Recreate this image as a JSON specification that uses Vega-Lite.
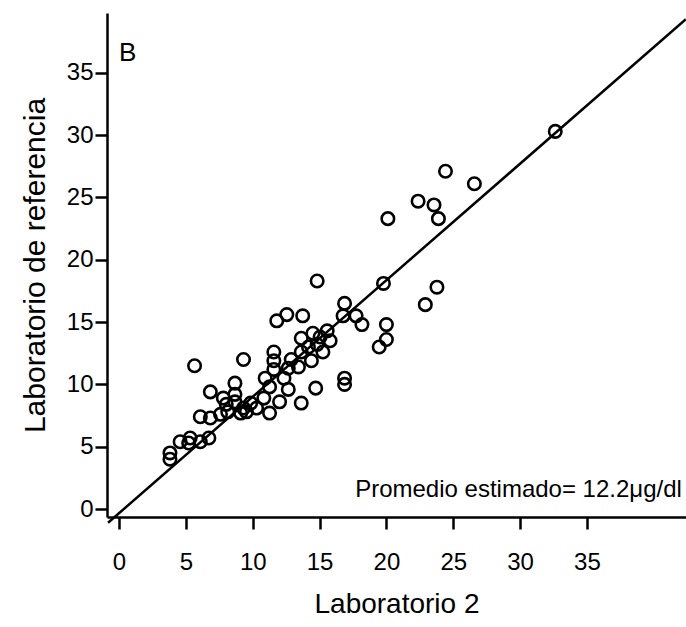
{
  "$schema": "https://vega.github.io/schema/vega-lite/v6.json",
  "width": 579,
  "height": 504,
  "autosize": "none",
  "padding": {"left": 107, "top": 13, "right": 0, "bottom": 110},
  "background": "white",
  "config": {
    "view": {"stroke": null},
    "axis": {
      "domainColor": "black", "domainWidth": 2.5,
      "tickColor": "black", "tickWidth": 2.5, "tickSize": 12,
      "labelColor": "black", "titleColor": "black",
      "grid": false,
      "labelFont": "Liberation Sans", "labelFontSize": 24,
      "titleFont": "Liberation Sans", "titleFontSize": 28, "titleFontWeight": "normal"
    }
  },
  "datasets": {
    "pts": [
      {"lab2": 3.81, "ref": 4.5}, {"lab2": 3.81, "ref": 4.0}, {"lab2": 4.57, "ref": 5.4}, {"lab2": 5.21, "ref": 5.3},
      {"lab2": 5.32, "ref": 5.7}, {"lab2": 6.08, "ref": 5.4}, {"lab2": 6.72, "ref": 5.7}, {"lab2": 6.08, "ref": 7.4},
      {"lab2": 6.83, "ref": 7.3}, {"lab2": 7.59, "ref": 7.6}, {"lab2": 8.13, "ref": 7.8}, {"lab2": 9.10, "ref": 7.7},
      {"lab2": 9.53, "ref": 7.8}, {"lab2": 7.80, "ref": 8.9}, {"lab2": 8.67, "ref": 9.2}, {"lab2": 8.67, "ref": 10.1},
      {"lab2": 6.83, "ref": 9.4}, {"lab2": 5.65, "ref": 11.5}, {"lab2": 9.31, "ref": 12.0}, {"lab2": 8.67, "ref": 8.6},
      {"lab2": 9.31, "ref": 8.1}, {"lab2": 10.29, "ref": 8.1}, {"lab2": 10.83, "ref": 8.9}, {"lab2": 11.26, "ref": 7.7},
      {"lab2": 12.01, "ref": 8.6}, {"lab2": 13.63, "ref": 8.5}, {"lab2": 11.26, "ref": 9.8}, {"lab2": 12.66, "ref": 9.6},
      {"lab2": 14.71, "ref": 9.7}, {"lab2": 11.58, "ref": 11.2}, {"lab2": 12.66, "ref": 11.3}, {"lab2": 13.42, "ref": 11.4},
      {"lab2": 14.39, "ref": 11.9}, {"lab2": 11.58, "ref": 11.9}, {"lab2": 11.58, "ref": 12.6}, {"lab2": 13.63, "ref": 12.6},
      {"lab2": 15.25, "ref": 12.6}, {"lab2": 14.82, "ref": 13.2}, {"lab2": 15.79, "ref": 13.5}, {"lab2": 13.63, "ref": 13.7},
      {"lab2": 14.50, "ref": 14.1}, {"lab2": 15.57, "ref": 14.3}, {"lab2": 11.80, "ref": 15.1}, {"lab2": 12.55, "ref": 15.6},
      {"lab2": 13.74, "ref": 15.5}, {"lab2": 16.76, "ref": 15.5}, {"lab2": 14.82, "ref": 18.3}, {"lab2": 16.87, "ref": 16.5},
      {"lab2": 17.73, "ref": 15.5}, {"lab2": 18.17, "ref": 14.8}, {"lab2": 20.00, "ref": 14.8}, {"lab2": 20.00, "ref": 13.6},
      {"lab2": 19.46, "ref": 13.0}, {"lab2": 19.78, "ref": 18.1}, {"lab2": 16.87, "ref": 10.5}, {"lab2": 16.87, "ref": 10.0},
      {"lab2": 22.91, "ref": 16.4}, {"lab2": 23.78, "ref": 17.8}, {"lab2": 20.11, "ref": 23.3}, {"lab2": 22.37, "ref": 24.7},
      {"lab2": 23.56, "ref": 24.4}, {"lab2": 23.89, "ref": 23.3}, {"lab2": 24.42, "ref": 27.1}, {"lab2": 26.58, "ref": 26.1},
      {"lab2": 32.63, "ref": 30.3}, {"lab2": 8.02, "ref": 8.4}, {"lab2": 9.85, "ref": 8.5}, {"lab2": 14.17, "ref": 13.0},
      {"lab2": 15.04, "ref": 13.8}, {"lab2": 12.88, "ref": 12.0}, {"lab2": 12.34, "ref": 10.5}, {"lab2": 10.93, "ref": 10.5}
    ],
    "fit": [
      {"lab2": -0.82, "ref": -1.1},
      {"lab2": 42.4, "ref": 39.3}
    ],
    "labels": [
      {"lab2": 0.0, "ref": 36.6, "txt": "B"}
    ],
    "note": [
      {"lab2": 42.1, "ref": 1.5, "txt": "Promedio estimado= 12.2μg/dl"}
    ]
  },
  "layer": [
    {
      "data": {"name": "fit"},
      "mark": {"type": "line", "color": "black", "strokeWidth": 2.5, "clip": false},
      "encoding": {
        "x": {"field": "lab2", "type": "quantitative",
              "scale": {"domain": [-0.9, 42.41], "nice": false, "zero": false},
              "axis": {"values": [0, 5, 10, 15, 20, 25, 30, 35], "labelPadding": 21, "title": "Laboratorio 2", "titlePadding": 16}},
        "y": {"field": "ref", "type": "quantitative",
              "scale": {"domain": [-0.64, 39.8], "nice": false, "zero": false},
              "axis": {"values": [0, 5, 10, 15, 20, 25, 30, 35], "labelPadding": 2, "title": "Laboratorio de referencia", "titlePadding": 16, "titleFontSize": 30}}
      }
    },
    {
      "data": {"name": "pts"},
      "mark": {"type": "point", "shape": "circle", "filled": false, "color": "black", "strokeWidth": 2.6, "size": 155, "opacity": 1},
      "encoding": {
        "x": {"field": "lab2", "type": "quantitative"},
        "y": {"field": "ref", "type": "quantitative"}
      }
    },
    {
      "data": {"name": "labels"},
      "mark": {"type": "text", "font": "Liberation Sans", "fontSize": 26, "color": "black", "align": "left", "baseline": "middle"},
      "encoding": {
        "x": {"field": "lab2", "type": "quantitative"},
        "y": {"field": "ref", "type": "quantitative"},
        "text": {"field": "txt"}
      }
    },
    {
      "data": {"name": "note"},
      "mark": {"type": "text", "font": "Liberation Sans", "fontSize": 24, "color": "black", "align": "right", "baseline": "middle"},
      "encoding": {
        "x": {"field": "lab2", "type": "quantitative"},
        "y": {"field": "ref", "type": "quantitative"},
        "text": {"field": "txt"}
      }
    }
  ]
}
